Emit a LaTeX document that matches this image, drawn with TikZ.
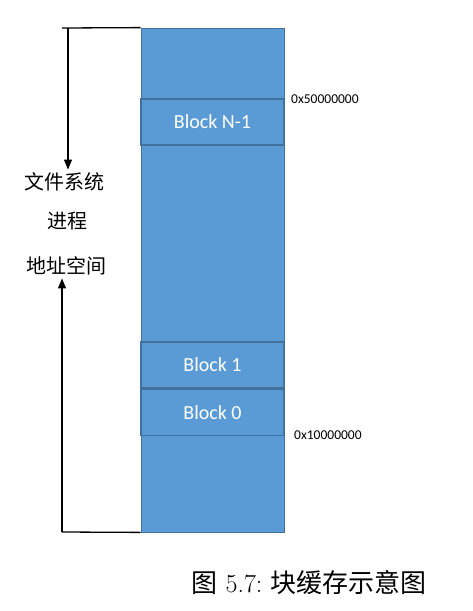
\documentclass[tikz,border=0pt]{standalone}
\usepackage{fontspec}
\newfontfamily\cjk{Noto Sans CJK SC}
\newfontfamily\calib{Carlito}
\usetikzlibrary{arrows.meta, positioning}
\definecolor{blueA}{HTML}{5B9BD5}
\definecolor{blueB}{HTML}{41719C}
\tikzset{
  bar/.style={
    draw=blueB, fill=blueA, line width=0.8pt,
    minimum width=143pt, minimum height=504pt, inner sep=0pt
  },
  blockbox/.style={
    draw=blueB, fill=blueA, line width=1.3pt,
    minimum width=143pt, minimum height=46pt, inner sep=0pt,
    text=white, font=\calib\fontsize{20}{24}\selectfont
  },
  addr/.style={anchor=west, inner sep=0pt, font=\calib\fontsize{13.5}{16}\selectfont},
  cnlabel/.style={inner sep=3pt, font=\cjk\fontsize{20}{24}\selectfont},
  arrow/.style={-{Triangle[length=10pt, width=8pt]}, line width=1.3pt},
  edge/.style={line width=1.3pt}
}
\begin{document}
\begin{tikzpicture}[x=1pt, y=-1pt]
  \useasboundingbox (0,0) rectangle (472,611);
  % memory bar
  \node[bar] (mem) at (212.5,280) {};
  \node[blockbox] (bn) at (212.5,122) {Block N-1};
  \node[blockbox] (b1) at (212.5,365) {Block 1};
  \node[blockbox, below=0pt of b1] (b0) {Block 0};
  \node[addr] (hi) at (291,99) {0x50000000};
  \node[addr] (lo) at (294,435) {0x10000000};
  % left bracket
  \node[cnlabel] (fs) at (64,182) {文件系统};
  \node[cnlabel] (pr) at (67,221) {进程};
  \node[cnlabel] (as) at (67,266) {地址空间};
  \coordinate (topL) at (62,28);
  \coordinate (topA) at (68,28);
  \coordinate (botL) at (62,532);
  \draw[edge] (topL) -- (mem.north west);
  \draw[edge] (botL) -- (mem.south west);
  \draw[arrow] (topA) -- (topA |- fs.north);
  \draw[arrow] (botL) -- (botL |- as.south);
  % caption
  \node[font=\fontsize{26}{30}\selectfont] (cap) at (309,583)
    {{\cjk 图}\ 5.7:\ {\cjk 块缓存示意图}};
\end{tikzpicture}
\end{document}
